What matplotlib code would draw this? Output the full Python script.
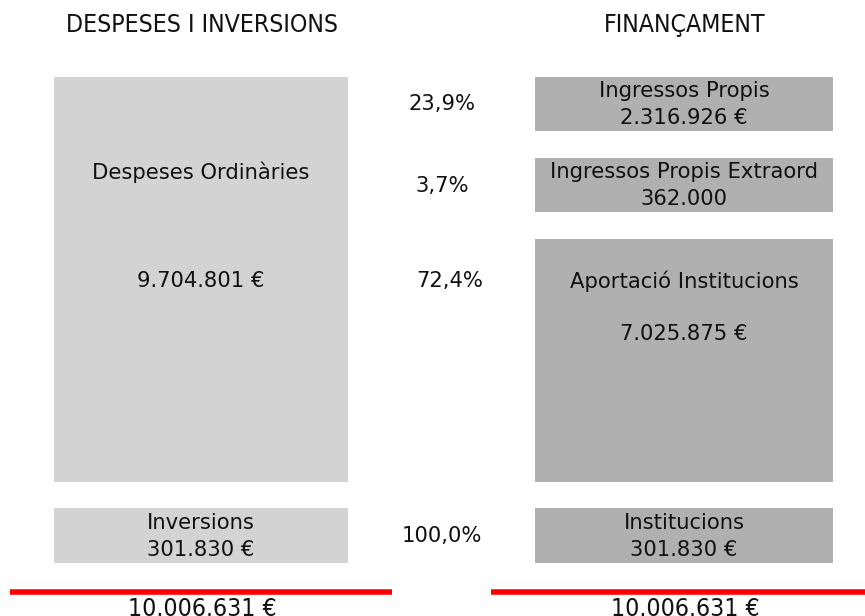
import matplotlib
matplotlib.use("Agg")
import matplotlib.pyplot as plt

# ---- data ----
left_title = "DESPESES I INVERSIONS"
right_title = "FINANÇAMENT"
left_labels = ["Despeses Ordinàries", "Inversions"]
left_values = ["9.704.801 €", "301.830 €"]
right_labels = ["Ingressos Propis", "Ingressos Propis Extraord", "Aportació Institucions", "Institucions"]
right_values = ["2.316.926 €", "362.000", "7.025.875 €", "301.830 €"]
percentages = ["23,9%", "3,7%", "72,4%", "100,0%"]
total_left = "10.006.631 €"
total_right = "10.006.631 €"

# ---- layout (pixel space) ----
W, H = 865, 616
fig = plt.figure(figsize=(W / 100, H / 100), dpi=100)
ax = fig.add_axes([0, 0, 1, 1])
ax.set_xlim(0, W)
ax.set_ylim(H, 0)
ax.axis("off")

FONT = "DejaVu Sans"
FS = 15.2
FST = 17.8
left_color = "#d3d3d3"
right_color = "#b0b0b0"
txt_color = "#111111"

# left boxes: (top, bottom)
left_boxes = [(77, 482), (508, 563)]
lx0, lx1 = 54, 348
for (t, b) in left_boxes:
    ax.bar((lx0 + lx1) / 2, b - t, width=lx1 - lx0, bottom=t, color=left_color, linewidth=0)

right_boxes = [(77, 131), (158, 212), (239, 482), (508, 563)]
rx0, rx1 = 535, 833
for (t, b) in right_boxes:
    ax.bar((rx0 + rx1) / 2, b - t, width=rx1 - rx0, bottom=t, color=right_color, linewidth=0)

lcx = (lx0 + lx1) / 2
rcx = (rx0 + rx1) / 2

def t(x, y, s, **kw):
    kw.setdefault("fontsize", FS)
    kw.setdefault("family", FONT)
    ax.text(x, y, s, ha=kw.pop("ha", "center"), va=kw.pop("va", "center"),
            color=txt_color, **kw)

# titles
t(202, 25, left_title, fontsize=FST, fontstretch="condensed")
t(685, 25, right_title, fontsize=FST, fontstretch="condensed")

# left texts
t(lcx, 172, left_labels[0])
t(lcx, 281, left_values[0])
t(lcx, 523, left_labels[1])
t(lcx, 550, left_values[1])

# right texts
t(rcx, 91, right_labels[0])
t(rcx, 118, right_values[0])
t(rcx, 172, right_labels[1])
t(rcx, 199, right_values[1])
t(rcx, 281, right_labels[2])
t(rcx, 334, right_values[2])
t(rcx, 523, right_labels[3])
t(rcx, 550, right_values[3])

# percentages
pct_pos = [(442, 104), (442, 186), (450, 281), (442, 536)]
for p, (x, y) in zip(percentages, pct_pos):
    t(x, y, p)

# red total lines
ax.plot([10, 392], [591.5, 591.5], color="#ff0000", linewidth=4, solid_capstyle="butt")
ax.plot([491, 865], [591.5, 591.5], color="#ff0000", linewidth=4, solid_capstyle="butt")
t(202, 597, total_left, va="top", fontsize=FST, fontstretch="condensed")
t(685, 597, total_right, va="top", fontsize=FST, fontstretch="condensed")

fig.savefig("out.png", dpi=100)
